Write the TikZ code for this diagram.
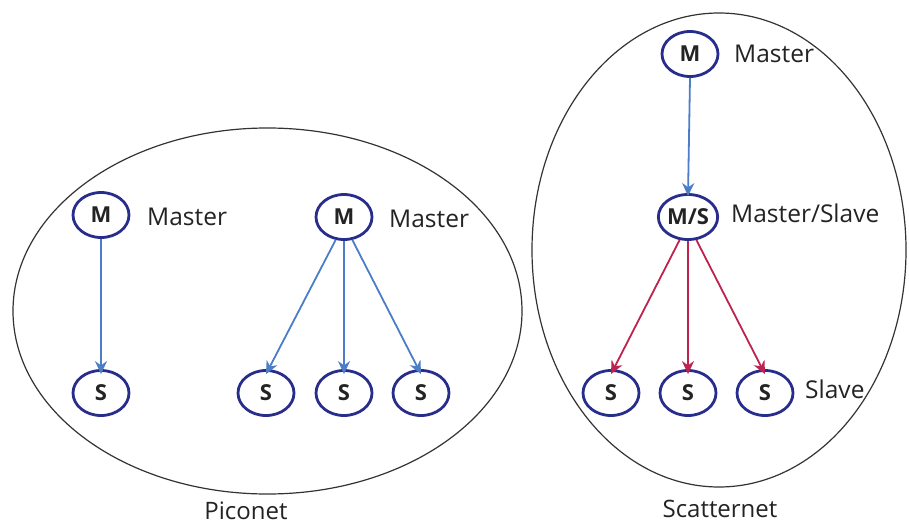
\documentclass[tikz,border=0pt]{standalone}
\usepackage{fontspec}
\setmainfont{Open Sans}
\usetikzlibrary{arrows.meta,shapes.geometric}
\definecolor{nodeblue}{RGB}{40,45,140}
\definecolor{arrblue}{RGB}{75,125,200}
\definecolor{arrred}{RGB}{190,35,80}
\definecolor{txt}{RGB}{35,35,35}
\begin{document}
\begin{tikzpicture}[x=1pt,y=-1pt,
  dev/.style={ellipse,draw=nodeblue,line width=2.8pt,minimum width=56pt,minimum height=45pt,inner sep=0pt,font=\fontsize{22}{26}\selectfont\bfseries,text=txt},
  lbl/.style={anchor=base west,font=\fontsize{24.5}{28}\selectfont,text=txt,inner sep=0pt},
  captext/.style={anchor=base,font=\fontsize{24}{28}\selectfont,text=txt,inner sep=0pt},
  net/.style={draw=black!80,line width=1.2pt},
  barr/.style={draw=arrblue,line width=1.8pt,-{Stealth[length=13pt,width=12pt]}},
  rarr/.style={draw=arrred,line width=1.8pt,-{Stealth[length=13pt,width=12pt]}}]
\useasboundingbox (0,0) rectangle (909,527);
% network outlines
\draw[net] (267.5,311) ellipse [x radius=254.5, y radius=183];
\draw[net] (719,250) ellipse [x radius=187, y radius=237];
% piconet 1
\node[dev] (m1) at (101,215) {M};
\node[dev] (s1) at (101,393) {S};
\node[lbl] (l1) at (147,225) {Master};
\draw[barr] (m1.south) -- ([yshift=-5pt]s1.north);
% piconet 2
\node[dev] (m2) at (344,217) {M};
\node[dev] (s2) at (266,393) {S};
\node[dev] (s3) at (344,393) {S};
\node[dev] (s4) at (421,393) {S};
\node[lbl] (l2) at (389,227) {Master};
\draw[barr] (m2.250) -- ([yshift=-5pt]s2.north);
\draw[barr] (m2.south) -- ([yshift=-5pt]s3.north);
\draw[barr] (m2.290) -- ([yshift=-5pt]s4.north);
% scatternet
\node[dev] (m3) at (690,54) {M};
\node[lbl] (l3) at (734,63) {Master};
\node[dev] (ms) at (688,217) {M/S};
\node[lbl] (l4) at (731,222) {Master/Slave};
\node[dev] (s5) at (611,393) {S};
\node[dev] (s6) at (688,393) {S};
\node[dev] (s7) at (765,393) {S};
\node[lbl] (l5) at (805,398) {Slave};
\draw[barr] (m3.south) -- ([yshift=-3pt]ms.north);
\draw[rarr] (ms.250) -- ([yshift=-5pt]s5.north);
\draw[rarr] (ms.south) -- ([yshift=-5pt]s6.north);
\draw[rarr] (ms.290) -- ([yshift=-5pt]s7.north);
% captions
\node[captext] (c1) at (246,519) {Piconet};
\node[captext] (c2) at (720,517) {Scatternet};
\end{tikzpicture}
\end{document}
